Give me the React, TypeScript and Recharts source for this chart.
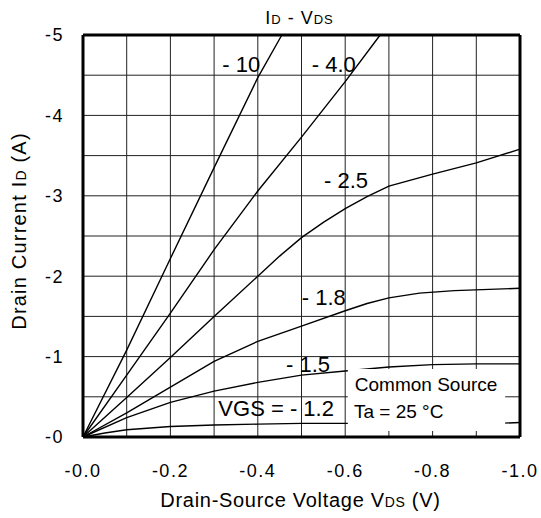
import { LineChart, Line, XAxis, YAxis, CartesianGrid, ReferenceLine, ReferenceArea, ReferenceDot } from 'recharts';

// ID - VDS curves, one array pair per gate voltage (V, A)
const V_10 = [0, -0.1, -0.2, -0.3, -0.4, -0.455];
const I_10 = [0, -1.08, -2.22, -3.35, -4.47, -5.0];

const V_40 = [0, -0.1, -0.2, -0.3, -0.4, -0.5, -0.6, -0.68];
const I_40 = [0, -0.77, -1.54, -2.33, -3.06, -3.73, -4.42, -5.0];

const V_25 = [0, -0.1, -0.2, -0.3, -0.4, -0.45, -0.5, -0.55, -0.6, -0.65, -0.7, -0.8, -0.9, -1.0];
const I_25 = [0, -0.49, -0.99, -1.5, -2.0, -2.25, -2.48, -2.67, -2.84, -2.99, -3.12, -3.27, -3.41, -3.58];

const V_18 = [0, -0.1, -0.2, -0.3, -0.4, -0.5, -0.6, -0.65, -0.7, -0.77, -0.85, -1.0];
const I_18 = [0, -0.3, -0.62, -0.94, -1.19, -1.38, -1.57, -1.66, -1.73, -1.79, -1.82, -1.85];

const V_15 = [0, -0.1, -0.2, -0.3, -0.4, -0.5, -0.6, -0.7, -0.8, -0.9, -1.0];
const I_15 = [0, -0.24, -0.43, -0.57, -0.68, -0.77, -0.82, -0.87, -0.9, -0.91, -0.91];

const V_12 = [0, -0.05, -0.1, -0.2, -0.3, -0.4, -0.5, -0.6, -0.8, -0.9, -1.0];
const I_12 = [0, -0.05, -0.09, -0.13, -0.15, -0.16, -0.17, -0.17, -0.17, -0.16, -0.18];

const X_TICKS = [0, -0.1, -0.2, -0.3, -0.4, -0.5, -0.6, -0.7, -0.8, -0.9, -1.0];
const X_LABELS = ['-0.0', '', '-0.2', '', '-0.4', '', '-0.6', '', '-0.8', '', '-1.0'];
const Y_TICKS = [0, -0.5, -1, -1.5, -2, -2.5, -3, -3.5, -4, -4.5, -5];
const Y_LABELS = ['-0', '', '-1', '', '-2', '', '-3', '', '-4', '', '-5'];

const toPoints = (vs: number[], is: number[]) => vs.map((v, k) => ({ v, i: is[k] }));

const SERIES = [
  { name: '-10', data: toPoints(V_10, I_10) },
  { name: '-4.0', data: toPoints(V_40, I_40) },
  { name: '-2.5', data: toPoints(V_25, I_25) },
  { name: '-1.8', data: toPoints(V_18, I_18) },
  { name: '-1.5', data: toPoints(V_15, I_15) },
  { name: '-1.2', data: toPoints(V_12, I_12) },
];

// curve tags, anchored in data units
const CURVE_LABELS = [
  { text: '- 10', v: -0.362, i: -4.64 },
  { text: '- 4.0', v: -0.574, i: -4.64 },
  { text: '- 2.5', v: -0.602, i: -3.2 },
  { text: '- 1.8', v: -0.551, i: -1.74 },
  { text: '- 1.5', v: -0.515, i: -0.9 },
  { text: 'VGS = - 1.2', v: -0.442, i: -0.36 },
];

const NOTES = [
  { text: 'Common Source', v: -0.622, i: -0.65 },
  { text: 'Ta = 25 °C', v: -0.62, i: -0.32 },
];

const FONT = '"Liberation Sans", Arial, Helvetica, sans-serif';

export default function App() {
  return (
    <div style={{ position: 'absolute', left: 0, top: 0, fontFamily: FONT }}>
      <LineChart width={541} height={518} margin={{ top: 35, right: 21, bottom: 0, left: 0 }}>
        <CartesianGrid stroke="#222" strokeWidth={1} />
        <XAxis
          dataKey="v"
          type="number"
          domain={[-1, 0]}
          reversed
          ticks={X_TICKS}
          tickFormatter={(val, idx) => X_LABELS[idx] ?? ''}
          interval={0}
          height={81}
          tickLine={false}
          tickSize={0}
          tickMargin={27}
          axisLine={{ stroke: '#000', strokeWidth: 3 }}
          tick={{ fontSize: 18, fill: '#000', fontFamily: FONT, letterSpacing: 1.5 }}
          label={{
            content: ({ viewBox }: any) => (
              <text
                x={viewBox.x + viewBox.width / 2 - 1}
                y={viewBox.y + 70}
                textAnchor="middle"
                fontSize={20}
                letterSpacing={0.7}
                fontFamily={FONT}
                fill="#000"
              >
                Drain-Source Voltage V<tspan fontSize={14}>DS</tspan> (V)
              </text>
            ),
          }}
        />
        <YAxis
          type="number"
          domain={[-5, 0]}
          reversed
          ticks={Y_TICKS}
          tickFormatter={(val, idx) => Y_LABELS[idx] ?? ''}
          interval={0}
          width={83}
          tickLine={false}
          tickSize={0}
          tickMargin={19}
          axisLine={{ stroke: '#000', strokeWidth: 3 }}
          tick={{ fontSize: 18, fill: '#000', fontFamily: FONT, letterSpacing: 1.5 }}
          label={{
            content: ({ viewBox }: any) => {
              const cx = 26;
              const cy = viewBox.y + viewBox.height / 2 - 5;
              return (
                <text
                  x={cx}
                  y={cy}
                  transform={`rotate(-90 ${cx} ${cy})`}
                  textAnchor="middle"
                  fontSize={20}
                  letterSpacing={1.2}
                  fontFamily={FONT}
                  fill="#000"
                >
                  Drain Current I<tspan fontSize={14}>D</tspan> (A)
                </text>
              );
            },
          }}
        />
        {SERIES.map((s) => (
          <Line
            key={s.name}
            data={s.data}
            dataKey="i"
            type="linear"
            stroke="#000"
            strokeWidth={1.4}
            dot={false}
            activeDot={false}
            isAnimationActive={false}
          />
        ))}
        <ReferenceArea
          x1={-0.606}
          x2={-0.966}
          y1={-0.075}
          y2={-0.846}
          fill="#fff"
          fillOpacity={1}
          stroke="none"
          zIndex={450}
        />
        <ReferenceLine
          y={-5}
          stroke="#000"
          strokeWidth={3}
          label={{
            content: ({ viewBox }: any) => (
              <text
                x={viewBox.x + viewBox.width / 2 - 2}
                y={viewBox.y - 11}
                textAnchor="middle"
                fontSize={18}
                letterSpacing={1}
                fontFamily={FONT}
                fill="#000"
              >
                I<tspan fontSize={13}>D</tspan> - V<tspan fontSize={13}>DS</tspan>
              </text>
            ),
          }}
        />
        <ReferenceLine x={-1} stroke="#000" strokeWidth={3} />
        {CURVE_LABELS.map((l) => (
          <ReferenceDot
            key={l.text}
            x={l.v}
            y={l.i}
            r={0}
            fill="none"
            stroke="none"
            label={{ value: l.text, position: 'center', fontSize: 22, fill: '#000', fontFamily: FONT }}
          />
        ))}
        {NOTES.map((l) => (
          <ReferenceDot
            key={l.text}
            x={l.v}
            y={l.i}
            r={0}
            fill="none"
            stroke="none"
            label={{ value: l.text, position: 'right', offset: 0, fontSize: 19, fill: '#000', fontFamily: FONT }}
          />
        ))}
      </LineChart>
    </div>
  );
}
